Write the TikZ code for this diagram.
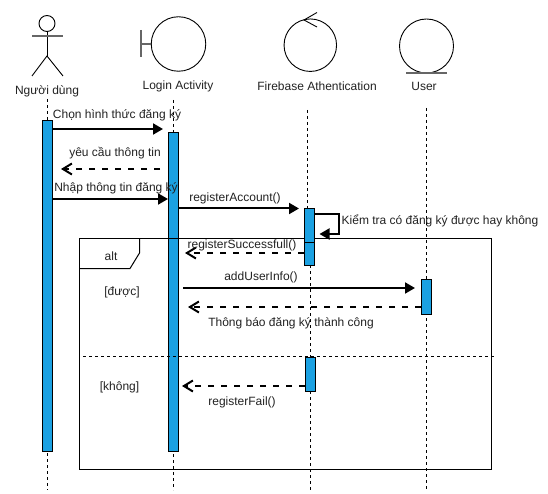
\documentclass[tikz,border=0pt]{standalone}
\usepackage{fontspec}
\setmainfont{Liberation Sans}
\usetikzlibrary{arrows.meta}
\definecolor{actblue}{HTML}{1BA1E2}
\definecolor{txt}{HTML}{222222}
\tikzset{
  x=1pt,y=-1pt,
  shapeline/.style={draw=black,line width=0.9pt},
  graybar/.style={draw=black!60,line width=1.3pt},
  label/.style={font=\fontsize{12pt}{14pt}\selectfont,text=txt,inner sep=0pt,yshift=-0.8pt},
  lifeline/.style={draw=black,line width=0.9pt,dash pattern=on 3pt off 3pt},
  activation/.style={draw=black,line width=1pt,fill=actblue,rectangle,inner sep=0pt,minimum width=10pt},
  callmsg/.style={draw=black,line width=2pt,-{Triangle[length=10pt,width=11pt]}},
  replymsg/.style={draw=black,line width=2pt,dash pattern=on 6.5pt off 6.5pt,-{Straight Barb[length=9pt,width=11pt,line width=2pt]}},
  framebox/.style={draw=black,line width=1pt}
}
\begin{document}
\begin{tikzpicture}
\useasboundingbox (0,0) rectangle (548,494);

% lifeline anchors
\coordinate (p1t) at (47,99);     \coordinate (p1b) at (47,490);
\coordinate (p2t) at (173.5,100); \coordinate (p2b) at (173.5,490);
\coordinate (p3t) at (307.5,110); \coordinate (p3m) at (307.5,209);
\coordinate (p3n) at (310.5,265); \coordinate (p3b) at (310.5,490);
\coordinate (p4t) at (426.7,108); \coordinate (p4b) at (426.7,490);
\draw[lifeline] (p1t) -- (p1b);
\draw[lifeline] (p2t) -- (p2b);
\draw[lifeline] (p3t) -- (p3m);
\draw[lifeline] (p3n) -- (p3b);
\draw[lifeline] (p4t) -- (p4b);

% actor
\node[shapeline,circle,minimum size=16pt,inner sep=0pt] (head) at (47,23.5) {};
\coordinate (hip) at (47,56);
\coordinate (armL) at (32,36); \coordinate (armR) at (63,36);
\coordinate (legL) at (32,76); \coordinate (legR) at (63,76);
\draw[shapeline] (head.south) -- (hip);
\draw[graybar] (armL) -- (armR);
\draw[shapeline] (legL) -- (hip) -- (legR);
\node[label] (actorname) at (47,90.5) {Người dùng};

% boundary
\node[shapeline,circle,minimum size=54.5pt,inner sep=0pt] (boundary) at (178.5,44) {};
\coordinate (bTop) at (141,30); \coordinate (bBot) at (141,57); \coordinate (bMid) at (141,44);
\draw[graybar] (bTop) -- (bBot);
\draw[graybar] (bMid) -- (boundary.west);
\node[label] (loginname) at (178,85.5) {Login Activity};

% control
\node[shapeline,circle,minimum size=52.5pt,inner sep=0pt] (control) at (310.3,45.2) {};
\coordinate (cTip) at (304,20); \coordinate (cUp) at (317,12.5); \coordinate (cDn) at (317,27);
\draw[shapeline] (cUp) -- (cTip) -- (cDn);
\node[label] (firebasename) at (317,85.5) {Firebase Athentication};

% entity
\node[shapeline,circle,minimum size=54pt,inner sep=0pt] (entity) at (426.5,46) {};
\coordinate (eL) at (406,73); \coordinate (eR) at (447,73);
\draw[graybar] (eL) -- (eR);
\node[label] (username) at (424,85.5) {User};

% activations under the frame
\node[activation,minimum height=331.5pt] (a1) at (47,286.2) {};
\node[activation,minimum height=319.5pt] (a2) at (173,292.2) {};

% alt frame
\node[framebox,rectangle,inner sep=0pt,minimum width=412pt,minimum height=231pt] (frame) at (285,353.5) {};
\coordinate (tabA) at (139.5,238); \coordinate (tabB) at (139.5,253);
\coordinate (tabC) at (130,268.5); \coordinate (tabD) at (79,268.5);
\draw[framebox] (tabA) -- (tabB) -- (tabC) -- (tabD);
\node[label] (alt) at (111,255) {alt};
\coordinate (divL) at (83,356); \coordinate (divR) at (495,356);
\draw[draw=black,line width=0.8pt,dash pattern=on 3pt off 3pt] (divL) -- (divR);
\node[label] (g1) at (122,292) {[được]};
\node[label] (g2) at (119.5,387) {[không]};

% other activations
\node[activation,minimum height=33pt] (a3) at (309,225.5) {};
\node[activation,minimum height=23pt] (a3b) at (309,253.5) {};
\node[activation,minimum height=35pt] (a4) at (426.5,296.5) {};
\node[activation,minimum height=34.5pt] (a5) at (310.5,374.3) {};

% messages
\coordinate (m1s) at (52,129);    \coordinate (m1e) at (163,129);
\coordinate (m2s) at (160,169);   \coordinate (m2e) at (61,169);
\coordinate (m3s) at (52,199);    \coordinate (m3e) at (168,199);
\coordinate (m4s) at (179,208.5); \coordinate (m4e) at (299,208.5);
\coordinate (m5s) at (314,214);   \coordinate (m5a) at (339,214);
\coordinate (m5b) at (339,234);   \coordinate (m5e) at (319.5,234);
\coordinate (m6s) at (304,253);   \coordinate (m6e) at (185,253);
\coordinate (m7s) at (183,288);   \coordinate (m7e) at (415,288);
\coordinate (m8s) at (421,307);   \coordinate (m8e) at (188,307);
\coordinate (m9s) at (305,386);   \coordinate (m9e) at (182,386);
\draw[callmsg] (m1s) -- (m1e);
\draw[replymsg] (m2s) -- (m2e);
\draw[callmsg] (m3s) -- (m3e);
\draw[callmsg] (m4s) -- (m4e);
\draw[callmsg] (m5s) -- (m5a) -- (m5b) -- (m5e);
\draw[replymsg] (m6s) -- (m6e);
\draw[callmsg] (m7s) -- (m7e);
\draw[replymsg] (m8s) -- (m8e);
\draw[replymsg] (m9s) -- (m9e);

% message labels
\node[label] (l1) at (117,115) {Chọn hình thức đăng ký};
\node[label] (l2) at (115,152) {yêu cầu thông tin};
\node[label] (l3) at (116,188) {Nhập thông tin đăng ký};
\node[label] (l4) at (235,198) {registerAccount()};
\node[label,anchor=west] (l5) at (341.5,220) {Kiểm tra có đăng ký được hay không};
\node[label] (l6) at (242,245) {registerSuccessfull()};
\node[label] (l7) at (261,277) {addUserInfo()};
\node[label] (l8) at (291,323) {Thông báo đăng ký thành công};
\node[label] (l9) at (242,402) {registerFail()};
\end{tikzpicture}
\end{document}
